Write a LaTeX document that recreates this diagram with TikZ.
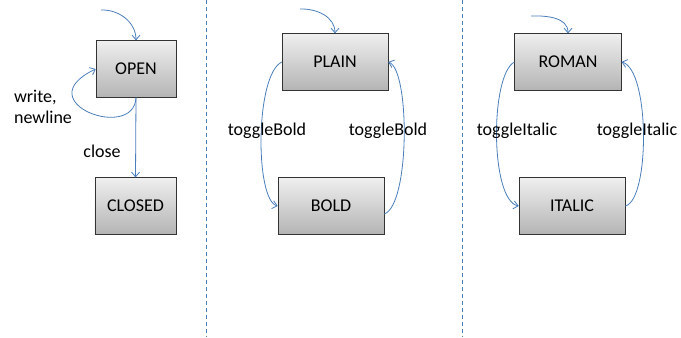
\documentclass[tikz,border=0pt]{standalone}
\usepackage{fontspec}
\setmainfont{Carlito}
\usepackage{tikz}
\usetikzlibrary{arrows.meta}
\usetikzlibrary{calc}

\definecolor{linkblue}{HTML}{4A7EBB}
\definecolor{boxtop}{HTML}{EFEFEF}
\definecolor{boxbot}{HTML}{B4B4B4}

\begin{document}
\begin{tikzpicture}[
        x=0.75pt, y=-0.75pt,
        font=\fontsize{13.5pt}{15.75pt}\selectfont,
        state/.style={draw=black!80, top color=boxtop, bottom color=boxbot,
            minimum height=42.5pt, inner sep=0pt},
        trans/.style={->, >={Straight Barb[length=3.5pt, width=6pt]}, linkblue, semithick},
        divider/.style={linkblue, dash pattern=on 3pt off 2.25pt, thin}
    ]
        \useasboundingbox (0,0) rectangle (681,337);

        % --- Separadores ---
        \coordinate (d1top) at (206,0);
        \coordinate (d1bot) at (206,337);
        \coordinate (d2top) at (462,0);
        \coordinate (d2bot) at (462,337);
        \draw[divider] (d1top) -- (d1bot);
        \draw[divider] (d2top) -- (d2bot);

        % --- Fichero: OPEN / CLOSED ---
        \node[state, minimum width=60pt] (open) at (136,69) {OPEN};
        \node[state, minimum width=61pt] (closed) at (135.5,206) {CLOSED};
        \coordinate (open0) at (101,10);

        \draw[trans] (open0) to[out=2, in=90] (open.north);
        \draw[trans] (open.south) .. controls (134,142) and (26,102) .. (open.west);
        \draw[trans] (open.south) -- (closed.north);

        \node[align=left] (lblwrite) at (43,107) {write,\\newline};
        \node (lblclose) at (102,151) {close};

        % --- Estilo: PLAIN / BOLD ---
        \node[state, minimum width=79.5pt] (plain) at (335,62) {PLAIN};
        \node[state, minimum width=79.5pt] (bold) at (331,206) {BOLD};
        \coordinate (plain0) at (300,9);

        \draw[trans] (plain0) to[out=2, in=90] (plain.north);
        \draw[trans] (plain.west) .. controls (255,75) and (255,200) .. (bold.west);
        \draw[trans] ([yshift=-6pt]bold.east) .. controls (410,205) and (410,70) .. (plain.east);

        \node (lblbold1) at (267,131) {toggleBold};
        \node (lblbold2) at (388,131) {toggleBold};

        % --- Estilo: ROMAN / ITALIC ---
        \node[state, minimum width=80pt] (roman) at (568,62) {ROMAN};
        \node[state, minimum width=79.5pt] (italic) at (572,206) {ITALIC};
        \coordinate (roman0) at (531,16);

        \draw[trans] (roman0) to[out=2, in=90] (roman.north);
        \draw[trans] (roman.west) .. controls (490,75) and (490,200) .. (italic.west);
        \draw[trans] (italic.east) .. controls (650,200) and (650,70) .. (roman.east);

        \node (lblital1) at (517,131) {toggleItalic};
        \node (lblital2) at (637,131) {toggleItalic};

    \end{tikzpicture}
\end{document}
